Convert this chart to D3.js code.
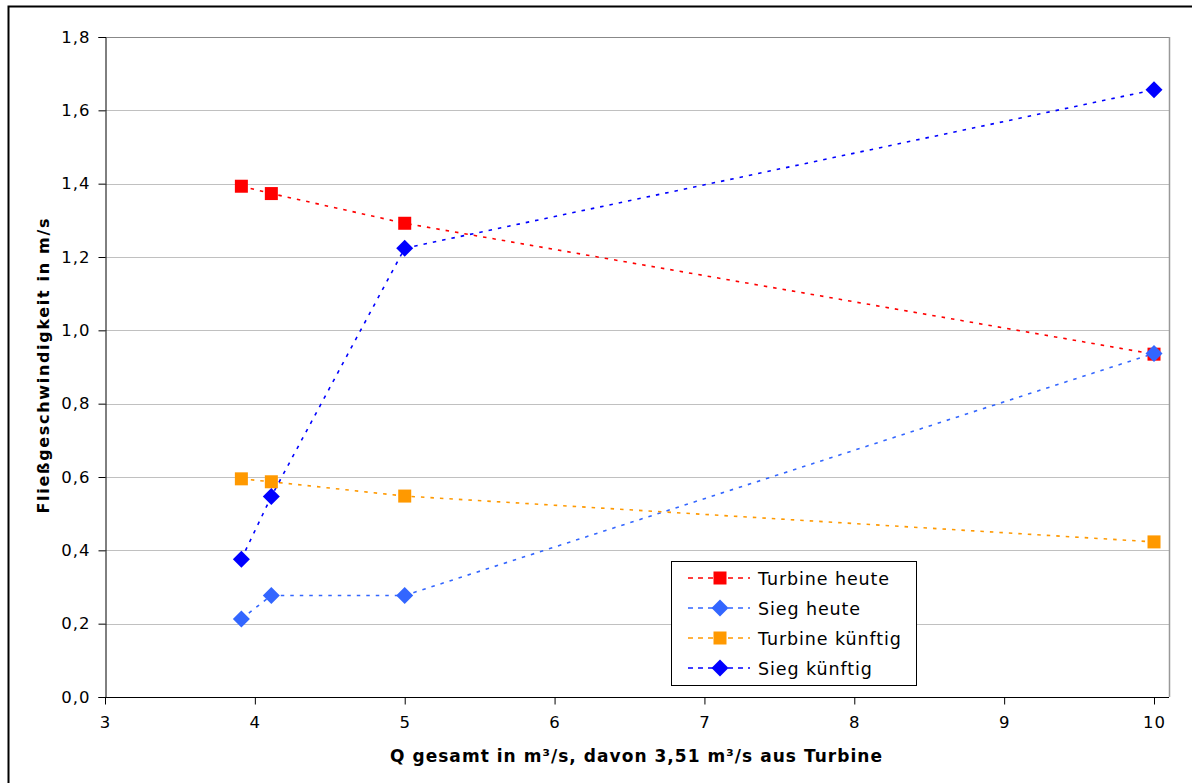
<!DOCTYPE html>
<html>
<head>
<meta charset="utf-8">
<script src="https://cdn.jsdelivr.net/npm/d3@7"></script>
<style>
  html, body { margin: 0; padding: 0; background: #fff; }
  svg { display: block; }
  text { font-family: "DejaVu Sans", Verdana, sans-serif; fill: #000; }
</style>
</head>
<body>
<svg id="chart" width="1192" height="783"></svg>
<script>
// Discharge values (m³/s)
const qValues = [3.91, 4.11, 5, 10];

// Flow velocities (m/s) per series
const turbineHeute    = [1.393, 1.373, 1.292, 0.935];
const siegHeute       = [0.213, 0.277, 0.277, 0.937];
const turbineKuenftig = [0.595, 0.587, 0.548, 0.423];
const siegKuenftig    = [0.376, 0.547, 1.224, 1.656];

const seriesNames = ["Turbine heute", "Sieg heute", "Turbine künftig", "Sieg künftig"];
const seriesColors = ["#FF0000", "#3366FF", "#FF9900", "#0000FF"];
const seriesShapes = ["square", "diamond", "square", "diamond"];
const seriesValues = [turbineHeute, siegHeute, turbineKuenftig, siegKuenftig];

const xTicks = [3, 4, 5, 6, 7, 8, 9, 10];
const yTicks = [0, 0.2, 0.4, 0.6, 0.8, 1.0, 1.2, 1.4, 1.6, 1.8];

const xTitle = "Q gesamt in m³/s, davon 3,51 m³/s aus Turbine";
const yTitle = "Fließgeschwindigkeit in m/s";

const svg = d3.select("#chart");

// outer chart frame (clipped at right/bottom)
svg.append("rect")
  .attr("x", 8.5).attr("y", 6.5)
  .attr("width", 1300).attr("height", 900)
  .attr("fill", "none").attr("stroke", "#000").attr("stroke-width", 2);

const plot = { left: 105, top: 37, right: 1169, bottom: 697 };

const x = d3.scaleLinear().domain([3, 10.1]).range([plot.left, plot.right]);
const y = d3.scaleLinear().domain([0, 1.8]).range([plot.bottom, plot.top]);

const fmt = d => d3.format(".1f")(d).replace(".", ",");

// gridlines
svg.append("g")
  .selectAll("line")
  .data(yTicks.filter(d => d > 0))
  .join("line")
  .attr("x1", plot.left).attr("x2", plot.right)
  .attr("y1", d => Math.round(y(d)) + 0.5).attr("y2", d => Math.round(y(d)) + 0.5)
  .attr("stroke", d => d === 1.8 ? "#888" : "#c0c0c0")
  .attr("stroke-width", 1);

// plot area right border
svg.append("line")
  .attr("x1", plot.right + 0.5).attr("x2", plot.right + 0.5)
  .attr("y1", plot.top).attr("y2", plot.bottom)
  .attr("stroke", "#999").attr("stroke-width", 1.5);

// y axis
const yAxis = d3.axisLeft(y).tickValues(yTicks).tickFormat(fmt).tickSize(7).tickPadding(8);
const gy = svg.append("g")
  .attr("transform", `translate(${plot.left + 0.5},0)`)
  .call(yAxis);
gy.select(".domain").attr("stroke", "#000");
gy.selectAll(".tick line").attr("stroke", "#000");
gy.selectAll(".tick text").attr("font-size", 16.5).attr("letter-spacing", "1px")
  .attr("font-family", "DejaVu Sans, sans-serif").attr("fill", "#000");

// x axis
const xAxis = d3.axisBottom(x).tickValues(xTicks).tickFormat(d3.format("d")).tickSize(7).tickPadding(12);
const gx = svg.append("g")
  .attr("transform", `translate(0,${plot.bottom + 0.5})`)
  .call(xAxis);
gx.select(".domain").attr("stroke", "#000").attr("d", `M${plot.left},0H${plot.right}`);
gx.selectAll(".tick line").attr("stroke", "#000");
gx.selectAll(".tick text").attr("font-size", 16.5).attr("letter-spacing", "1px")
  .attr("font-family", "DejaVu Sans, sans-serif").attr("fill", "#000");

// axis titles
svg.append("text")
  .attr("x", 636).attr("y", 762)
  .attr("text-anchor", "middle")
  .attr("font-family", "Liberation Sans, Arial, sans-serif")
  .attr("font-size", 17).attr("font-weight", "bold")
  .attr("textLength", 492).attr("lengthAdjust", "spacing")
  .text(xTitle);

svg.append("text")
  .attr("transform", `translate(49,366) rotate(-90)`)
  .attr("text-anchor", "middle")
  .attr("font-size", 16).attr("font-weight", "bold")
  .attr("textLength", 295).attr("lengthAdjust", "spacing")
  .text(yTitle);

// marker drawing
function drawMarker(g, shape, color, cx, cy) {
  if (shape === "square") {
    g.append("rect")
      .attr("x", cx - 6.5).attr("y", cy - 6.5)
      .attr("width", 13).attr("height", 13)
      .attr("fill", color);
  } else {
    const r = 8.5;
    g.append("path")
      .attr("d", `M${cx},${cy - r}L${cx + r},${cy}L${cx},${cy + r}L${cx - r},${cy}Z`)
      .attr("fill", color);
  }
}

const line = d3.line().x(d => x(d[0])).y(d => y(d[1]));

seriesValues.forEach((vals, i) => {
  const pts = qValues.map((q, j) => [q, vals[j]]);
  svg.append("path")
    .datum(pts)
    .attr("d", line)
    .attr("fill", "none")
    .attr("stroke", seriesColors[i])
    .attr("stroke-width", 1.6)
    .attr("stroke-dasharray", "3.5,6");
});

seriesValues.forEach((vals, i) => {
  const g = svg.append("g");
  qValues.forEach((q, j) => drawMarker(g, seriesShapes[i], seriesColors[i], x(q), y(vals[j])));
});

// legend
const legend = svg.append("g");
legend.append("rect")
  .attr("x", 671.5).attr("y", 561.5)
  .attr("width", 245).attr("height", 124)
  .attr("fill", "#fff").attr("stroke", "#000").attr("stroke-width", 1);

seriesNames.forEach((name, i) => {
  const ly = 578 + i * 30;
  legend.append("line")
    .attr("x1", 688).attr("x2", 750)
    .attr("y1", ly).attr("y2", ly)
    .attr("stroke", seriesColors[i]).attr("stroke-width", 1.6)
    .attr("stroke-dasharray", "5,5");
  drawMarker(legend, seriesShapes[i], seriesColors[i], 720, ly);
  legend.append("text")
    .attr("x", 758).attr("y", ly + 6.5)
    .attr("font-size", 17.5)
    .attr("letter-spacing", "0.9px")
    .text(name);
});
</script>
</body>
</html>
